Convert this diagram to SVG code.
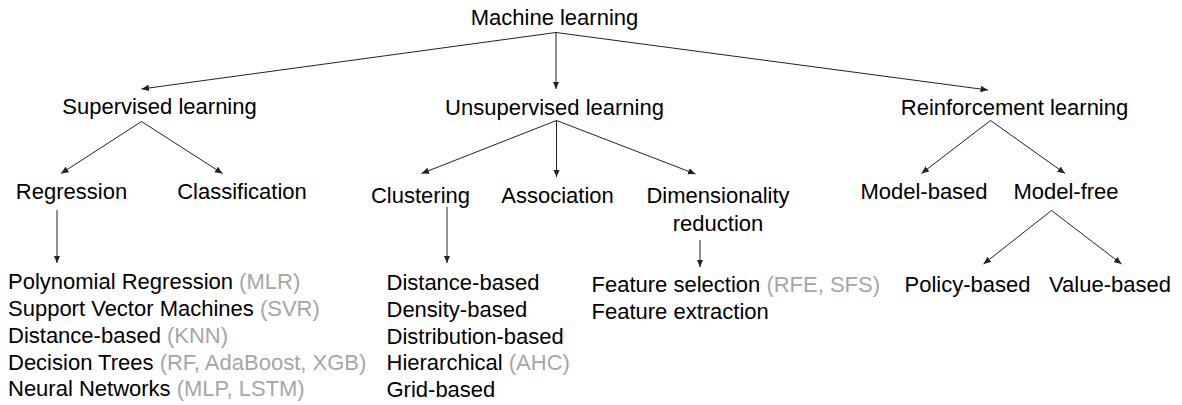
<svg xmlns="http://www.w3.org/2000/svg" width="1182" height="405" viewBox="0 0 1182 405">
  <defs>
    <marker id="arrow" markerUnits="userSpaceOnUse" markerWidth="9" markerHeight="8" refX="7.5" refY="3.25" orient="auto">
      <path d="M0,0 L7.5,3.25 L0,6.5 z" fill="#222"/>
    </marker>
    <style>
      text { font-family: "Liberation Sans", Arial, sans-serif; font-size: 22px; fill: #000; }
      .c { text-anchor: middle; }
      .g { fill: #a6a6a6; }
      .edge { stroke: #222; stroke-width: 1; fill: none; marker-end: url(#arrow); }
    </style>
  </defs>
  <rect width="1182" height="405" fill="#fff"/>

  <!-- connectors -->
  <g id="connectors">
    <line class="edge" x1="556" y1="32.5" x2="141.5" y2="89"/>
    <line class="edge" x1="556" y1="32.5" x2="556" y2="89"/>
    <line class="edge" x1="556" y1="32.5" x2="988" y2="90"/>

    <line class="edge" x1="141.5" y1="121.5" x2="61" y2="173.5"/>
    <line class="edge" x1="141.5" y1="121.5" x2="222.5" y2="173.5"/>
    <line class="edge" x1="57" y1="210" x2="57" y2="263"/>

    <line class="edge" x1="556.5" y1="120.5" x2="421.5" y2="173.5"/>
    <line class="edge" x1="556.5" y1="120.5" x2="556.5" y2="177"/>
    <line class="edge" x1="556.5" y1="120.5" x2="695.5" y2="174"/>
    <line class="edge" x1="447" y1="207" x2="447" y2="263"/>
    <line class="edge" x1="700" y1="240" x2="700" y2="267"/>

    <line class="edge" x1="990.5" y1="120.5" x2="921.5" y2="173.5"/>
    <line class="edge" x1="990.5" y1="120.5" x2="1065" y2="173.5"/>
    <line class="edge" x1="1051.5" y1="210.5" x2="983.5" y2="264"/>
    <line class="edge" x1="1051.5" y1="210.5" x2="1121.5" y2="264"/>
  </g>

  <!-- root -->
  <g id="machine-learning"><text class="c" x="554.5" y="25">Machine learning</text></g>

  <!-- level 1 -->
  <g id="supervised"><text class="c" x="159.5" y="114">Supervised learning</text></g>
  <g id="unsupervised"><text class="c" x="554.5" y="114.5">Unsupervised learning</text></g>
  <g id="reinforcement"><text class="c" x="1014.5" y="114.5">Reinforcement learning</text></g>

  <!-- supervised branch -->
  <g id="regression"><text class="c" x="71.5" y="199">Regression</text></g>
  <g id="classification"><text class="c" x="242" y="199">Classification</text></g>
  <g id="regression-methods">
    <text x="8" y="289">Polynomial Regression <tspan class="g">(MLR)</tspan></text>
    <text x="8" y="316">Support Vector Machines <tspan class="g">(SVR)</tspan></text>
    <text x="8" y="342.5">Distance-based <tspan class="g">(KNN)</tspan></text>
    <text x="8" y="369.5">Decision Trees <tspan class="g">(RF, AdaBoost, XGB)</tspan></text>
    <text x="8" y="396">Neural Networks <tspan class="g">(MLP, LSTM)</tspan></text>
  </g>

  <!-- unsupervised branch -->
  <g id="clustering"><text class="c" x="420.5" y="203">Clustering</text></g>
  <g id="association"><text class="c" x="557.5" y="203">Association</text></g>
  <g id="dimensionality-reduction">
    <text class="c" x="718" y="203">Dimensionality</text>
    <text class="c" x="718" y="230.5">reduction</text>
  </g>
  <g id="clustering-methods">
    <text x="386.5" y="290">Distance-based</text>
    <text x="386.5" y="317">Density-based</text>
    <text x="386.5" y="343.5">Distribution-based</text>
    <text x="386.5" y="370">Hierarchical <tspan class="g">(AHC)</tspan></text>
    <text x="386.5" y="396.5">Grid-based</text>
  </g>
  <g id="dimensionality-methods">
    <text x="591.5" y="291.5">Feature selection <tspan class="g">(RFE, SFS)</tspan></text>
    <text x="591.5" y="318.5">Feature extraction</text>
  </g>

  <!-- reinforcement branch -->
  <g id="model-based"><text class="c" x="924" y="199">Model-based</text></g>
  <g id="model-free"><text class="c" x="1066" y="199">Model-free</text></g>
  <g id="policy-based"><text class="c" x="967.5" y="291.5">Policy-based</text></g>
  <g id="value-based"><text class="c" x="1110" y="291.5">Value-based</text></g>
</svg>
